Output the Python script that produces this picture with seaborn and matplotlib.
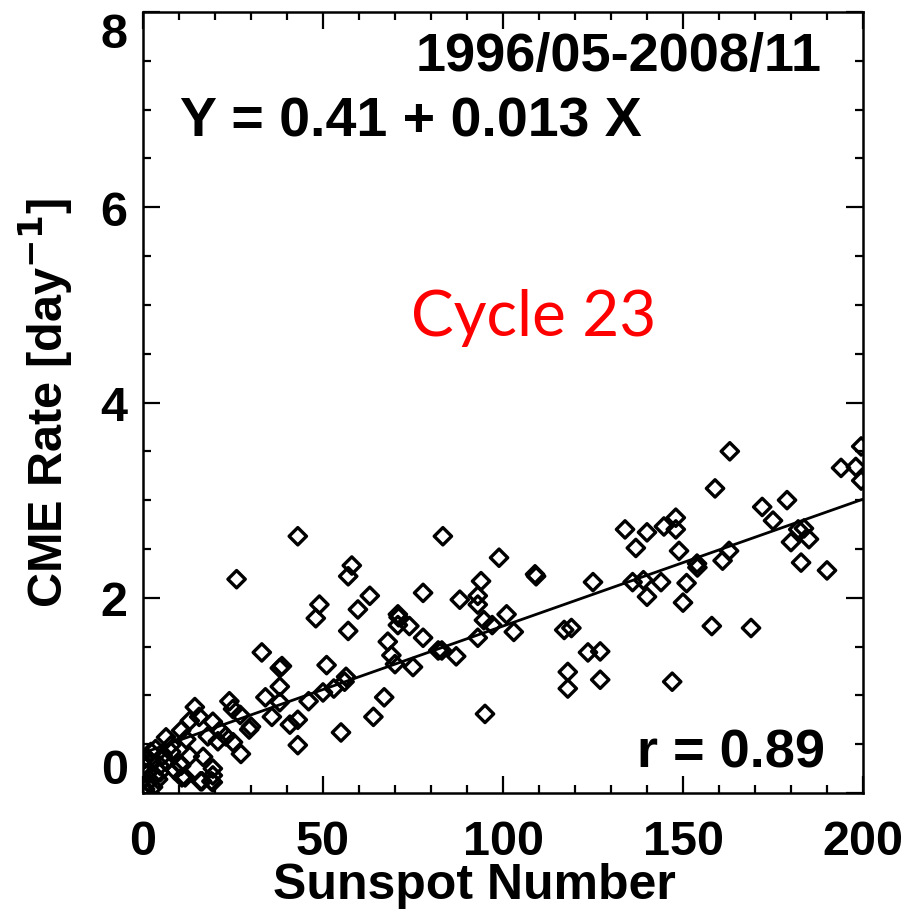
import matplotlib
matplotlib.use("Agg")
import matplotlib.pyplot as plt
from matplotlib.ticker import MultipleLocator
import seaborn as sns
import pandas as pd
import numpy as np

# ---- data ----
sunspot = [
    163.0, 158.9, 193.9, 198.0, 199.5, 199.5, 172.0, 178.9, 175.0, 182.0,
    183.6, 180.0, 185.0, 182.8, 190.0, 133.9, 140.0, 136.9, 144.7, 148.0,
    148.0, 148.9, 153.9, 154.0, 161.0, 162.8, 136.0, 139.0, 143.9, 151.0,
    140.0, 150.0, 158.0, 168.9, 147.0,
    83.3, 98.9, 108.9, 109.2, 93.9, 88.0, 93.0, 93.0, 94.7, 97.0,
    101.0, 103.0, 93.0, 83.0, 87.0, 95.0, 125.0, 117.0, 119.0, 123.6,
    127.0, 118.0, 118.0, 127.0,
    43.0, 58.0, 57.0, 63.0, 49.0, 48.0, 59.7, 77.8, 70.8, 71.0,
    70.8, 74.0, 57.0, 77.8, 68.0, 69.0, 70.0, 75.0, 82.0, 38.6,
    38.0, 51.0, 56.4, 56.0, 50.0, 53.0, 46.0, 38.0, 38.0, 35.8,
    40.8, 43.0, 43.0, 55.0, 64.0, 67.0, 26.0, 33.0, 34.0,
    24.0, 25.0, 27.0, 30.0, 29.5, 14.4, 15.6, 13.0, 10.6, 6.4,
    19.4, 18.0, 21.4, 23.0, 20.8, 25.0, 27.2, 16.7, 13.0, 7.8,
    7.8, 10.6, 8.9, 6.4, 11.7, 16.0, 19.4, 19.4, 19.4, 4.7,
    2.2, 2.2, 1.4, 3.3, 1.4, 0.6, 2.8, 4.2, 4.7, 0.2,
    0.5, 5.5, 10.3, 10.8, 16.4, 19.0, 1.0, 3.5, 12.0,
]
cme_rate = [
    3.50, 3.12, 3.33, 3.34, 3.55, 3.20, 2.93, 3.00, 2.79, 2.70,
    2.71, 2.57, 2.60, 2.36, 2.28, 2.70, 2.67, 2.51, 2.73, 2.82,
    2.70, 2.48, 2.35, 2.31, 2.38, 2.48, 2.16, 2.18, 2.16, 2.15,
    2.01, 1.95, 1.71, 1.69, 1.14,
    2.63, 2.41, 2.24, 2.22, 2.17, 1.98, 2.02, 1.93, 1.77, 1.72,
    1.83, 1.65, 1.59, 1.46, 1.40, 0.81, 2.16, 1.67, 1.69, 1.44,
    1.45, 1.24, 1.07, 1.16,
    2.63, 2.33, 2.22, 2.02, 1.93, 1.79, 1.88, 2.05, 1.83, 1.80,
    1.72, 1.71, 1.66, 1.59, 1.55, 1.41, 1.32, 1.29, 1.46, 1.30,
    1.28, 1.31, 1.19, 1.14, 1.03, 1.07, 0.94, 1.09, 0.93, 0.78,
    0.70, 0.75, 0.49, 0.62, 0.78, 0.98, 2.19, 1.44, 0.98,
    0.94, 0.86, 0.80, 0.68, 0.65, 0.88, 0.78, 0.74, 0.64, 0.57,
    0.73, 0.58, 0.64, 0.58, 0.53, 0.52, 0.40, 0.37, 0.38, 0.49,
    0.42, 0.28, 0.23, 0.32, 0.16, 0.12, 0.25, 0.18, 0.11, 0.28,
    0.42, 0.32, 0.21, 0.18, 0.11, 0.04, 0.06, 0.14, 0.21, 0.28,
    0.35, 0.38, 0.30, 0.16, 0.12, 0.12, 0.00, 0.45, 0.55,
]
fit_intercept = 0.41
fit_slope = 0.013
x_ticks = [0, 50, 100, 150, 200]
y_ticks = [0, 2, 4, 6, 8]
period_text = "1996/05-2008/11"
fit_text = "Y = 0.41 + 0.013 X"
corr_text = "r = 0.89"
cycle_text = "Cycle 23"

df = pd.DataFrame({"Sunspot Number": sunspot, "CME Rate": cme_rate})
fit_x = np.array([0.0, 200.0])
fit_df = pd.DataFrame({"x": fit_x, "y": fit_intercept + fit_slope * fit_x})

# ---- style ----
sns.set_theme(style="ticks")
plt.rcParams["font.family"] = ["Liberation Sans", "DejaVu Sans"]
plt.rcParams["font.weight"] = "bold"
plt.rcParams["text.color"] = "black"
plt.rcParams["axes.labelcolor"] = "black"
plt.rcParams["xtick.color"] = "black"
plt.rcParams["ytick.color"] = "black"
plt.rcParams["xtick.labelcolor"] = "black"
plt.rcParams["ytick.labelcolor"] = "black"

fig = plt.figure(figsize=(9.06, 9.20), dpi=100)
ax = fig.add_axes([143 / 906, 1 - 794 / 920, 720 / 906, 781 / 920])

sns.scatterplot(data=df, x="Sunspot Number", y="CME Rate", ax=ax,
                marker="D", s=78, facecolors="none", edgecolors="black",
                linewidths=2.4, legend=False, zorder=3)
sns.lineplot(data=fit_df, x="x", y="y", ax=ax, color="black",
             linewidth=2.0, legend=False, zorder=2)

ax.set_xlim(0, 200)
ax.set_ylim(0, 8)
ax.set_xticks(x_ticks)
ax.set_yticks(y_ticks)
ax.set_xticklabels([str(v) for v in x_ticks])
ax.set_yticklabels([str(v) for v in y_ticks])
ax.xaxis.set_minor_locator(MultipleLocator(10))
ax.yaxis.set_minor_locator(MultipleLocator(0.5))
ax.tick_params(which="both", direction="in", top=True, right=True,
               width=1.6, color="black", labelcolor="black")
ax.tick_params(which="major", length=12)
ax.tick_params(which="minor", length=6)
ax.tick_params(axis="x", which="major", pad=19, labelsize=35)
ax.tick_params(axis="y", which="major", pad=11, labelsize=35)
for lbl in ax.get_xticklabels() + ax.get_yticklabels():
    lbl.set_fontweight("bold")
    lbl.set_color("black")
ylabels = ax.get_yticklabels()
ylabels[0].set_va("bottom")
ylabels[-1].set_va("top")

for sp in ax.spines.values():
    sp.set_linewidth(1.8)
    sp.set_color("black")

ax.set_xlabel("Sunspot Number", fontsize=36, fontweight="bold", color="black")
ax.set_ylabel("CME Rate [day$^{\\mathbf{-1}}$]", fontsize=35,
              fontweight="bold", color="black")
ax.xaxis.set_label_coords(0.46, -0.088)
ax.yaxis.set_label_coords(-0.094, 0.5)

ax.text(0.943, 0.944, period_text, transform=ax.transAxes, ha="right",
        va="center", fontsize=39, fontweight="bold", color="black")
ax.text(0.051, 0.860, fit_text, transform=ax.transAxes, ha="left",
        va="center", fontsize=40, fontweight="bold", color="black")
ax.text(0.947, 0.052, corr_text, transform=ax.transAxes, ha="right",
        va="center", fontsize=39, fontweight="bold", color="black")
ax.text(0.542, 0.609, cycle_text, transform=ax.transAxes, ha="center",
        va="center", fontsize=46, fontweight="normal", color="#ff0000",
        family=["Lato", "DejaVu Sans"])

fig.savefig("out.png", dpi=100)
